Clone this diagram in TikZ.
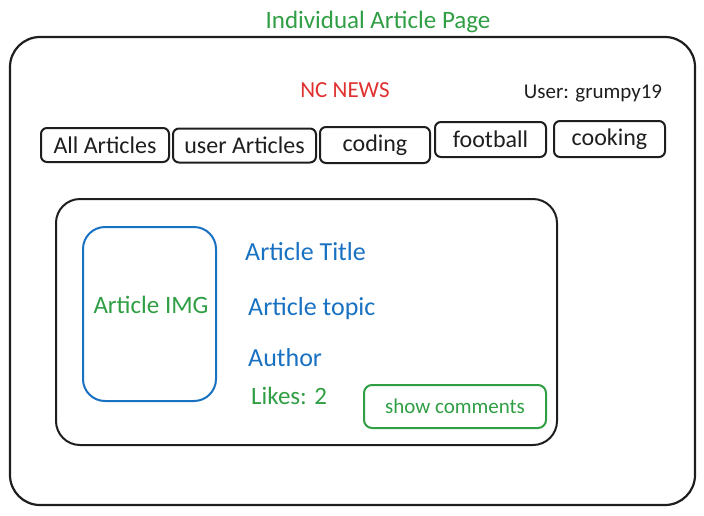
\documentclass[tikz,border=0pt]{standalone}
\usepackage{fontspec}
\setmainfont{Carlito}
\begin{document}
\definecolor{ink}{HTML}{1E1E1E}
\definecolor{sketchgreen}{HTML}{2F9E44}
\definecolor{sketchred}{HTML}{E03131}
\definecolor{sketchblue}{HTML}{1971C2}
\begin{tikzpicture}[x=1pt,y=-1pt,
  fs/.style={font=\fontsize{#1}{#1}\selectfont},
  frame/.style={draw=ink,line width=2.2pt,rounded corners=30pt},
  card/.style={draw=ink,line width=2pt,rounded corners=24pt},
  tab/.style={draw=ink,line width=2pt,rounded corners=6pt,minimum height=34pt,inner sep=0pt,fs=24,text=ink},
  imgbox/.style={draw=sketchblue,line width=2pt,rounded corners=22pt},
  btn/.style={draw=sketchgreen,line width=2pt,rounded corners=8pt,inner sep=0pt,fs=21,text=sketchgreen},
  lbl/.style={inner sep=0pt,fs=25},
  field/.style={lbl,anchor=west,text=sketchblue,fs=26}]
\useasboundingbox (0,0) rectangle (704,515);
% page heading
\node[lbl,text=sketchgreen] (heading) at (378,22) {Individual Article Page};
% outer page frame
\draw[frame] (10,37) rectangle (695,505);
% header
\node[lbl,text=sketchred,fs=23] (brand) at (345,90) {NC NEWS};
\node[lbl,text=ink,fs=21] (user) at (593,93) {User: grumpy19};
% navigation tabs
\node[tab,minimum width=128pt] (all) at (105,145) {All Articles};
\node[tab,minimum width=143pt] (usr) at (244.5,145.5) {user Articles};
\node[tab,minimum width=110pt,minimum height=36pt] (coding) at (375,145) {coding};
\node[tab,minimum width=111pt,minimum height=35pt] (football) at (490.5,139.5) {football};
\node[tab,minimum width=111pt,minimum height=36pt] (cooking) at (609.5,139) {cooking};
% article card
\draw[card] (56,199) rectangle (557,445);
\draw[imgbox] (83,227) rectangle (216,401);
\node[lbl,text=sketchgreen] (img) at (151,305) {Article IMG};
\node[field] (title) at (245,252) {Article Title};
\node[field] (topic) at (248,309) {Article topic};
\node[field] (author) at (248,358) {Author};
\node[lbl,anchor=west,text=sketchgreen] (likes) at (251,396) {Likes: 2};
\node[btn,minimum width=182pt,minimum height=43pt] (comments) at (455,406.5) {show comments};
\end{tikzpicture}
\end{document}
